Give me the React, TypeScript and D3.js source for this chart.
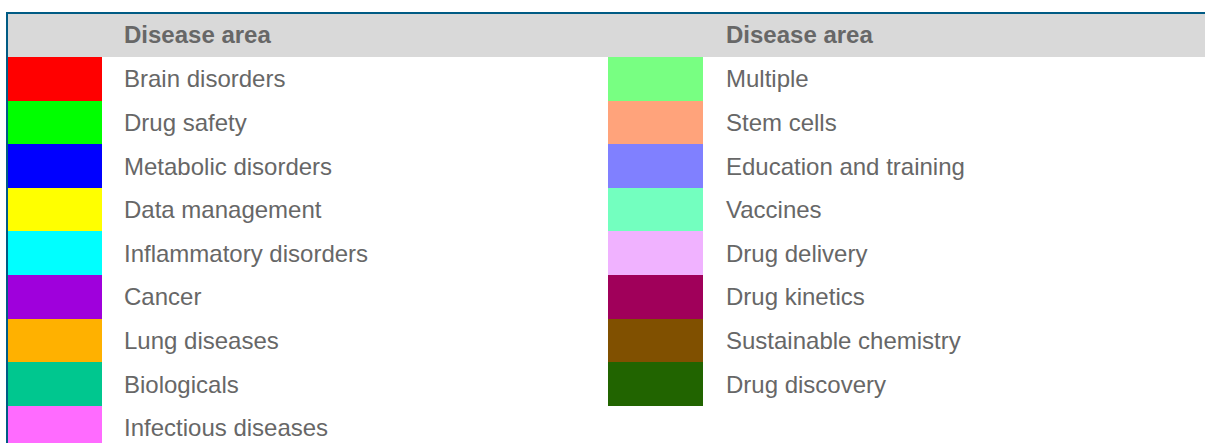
import React from "react";
import * as d3 from "d3";

const leftCategories = [
  "Brain disorders",
  "Drug safety",
  "Metabolic disorders",
  "Data management",
  "Inflammatory disorders",
  "Cancer",
  "Lung diseases",
  "Biologicals",
  "Infectious diseases",
];
const leftColors = [
  "#ff0000",
  "#00ff00",
  "#0000ff",
  "#ffff00",
  "#00ffff",
  "#9f00dc",
  "#ffb100",
  "#00c78f",
  "#ff6bff",
];
const rightCategories = [
  "Multiple",
  "Stem cells",
  "Education and training",
  "Vaccines",
  "Drug delivery",
  "Drug kinetics",
  "Sustainable chemistry",
  "Drug discovery",
];
const rightColors = [
  "#78ff82",
  "#ffa37b",
  "#8080ff",
  "#73ffbf",
  "#f0b2ff",
  "#a0005a",
  "#805000",
  "#216400",
];
const headerLabel = "Disease area";

const W = 1205;
const H = 443;
const FONT = "'Liberation Sans', Arial, sans-serif";
const TEXT = "#676767";

export default function App() {
  const rowH = 43.6;
  const top = 57;
  const y = d3
    .scaleBand<number>()
    .domain(d3.range(9))
    .range([top, top + 9 * rowH])
    .paddingInner(0)
    .paddingOuter(0);

  const columns = [
    { cats: leftCategories, cols: leftColors, swX: 8, swW: 94, textX: 124 },
    { cats: rightCategories, cols: rightColors, swX: 608, swW: 95, textX: 726 },
  ];

  return (
    <svg
      width={W}
      height={H}
      style={{ position: "absolute", left: 0, top: 0, display: "block" }}
      fontFamily={FONT}
    >
      <rect x={0} y={0} width={W} height={H} fill="#ffffff" />
      <rect x={8} y={14} width={W - 8} height={43} fill="#d9d9d9" />
      {columns.map((c, ci) => (
        <g key={ci}>
          <text x={c.textX} y={43} fontSize={24} fontWeight="bold" fill={TEXT}>
            {headerLabel}
          </text>
          {c.cats.map((name, i) => (
            <g key={name}>
              <rect
                x={c.swX}
                y={y(i)!}
                width={c.swW}
                height={y.bandwidth() + 0.5}
                fill={c.cols[i]}
                shapeRendering="crispEdges"
              />
              <text
                x={c.textX}
                y={y(i)! + y.bandwidth() / 2 + 8.5}
                fontSize={24}
                fill={TEXT}
              >
                {name}
              </text>
            </g>
          ))}
        </g>
      ))}
      <line x1={6} y1={13} x2={W} y2={13} stroke="#005b84" strokeWidth={2} />
      <line x1={7} y1={12} x2={7} y2={H} stroke="#005b84" strokeWidth={2} />
    </svg>
  );
}
